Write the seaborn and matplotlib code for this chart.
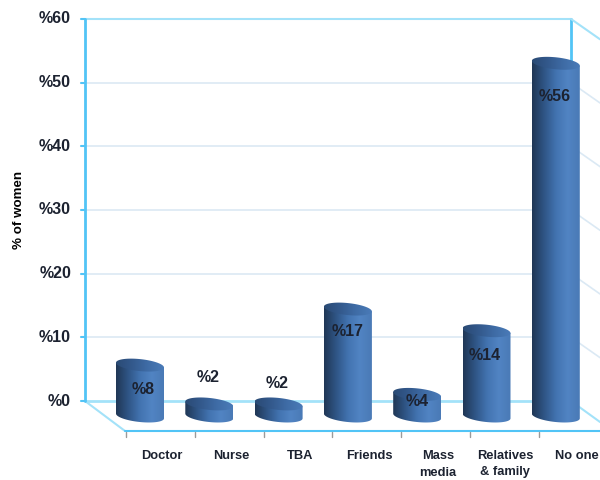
import numpy as np
import pandas as pd
import matplotlib
matplotlib.use("Agg")
import matplotlib.pyplot as plt
import seaborn as sns
from matplotlib.colors import LinearSegmentedColormap
from matplotlib.path import Path
from matplotlib.patches import PathPatch

categories = ["Doctor", "Nurse", "TBA", "Friends", "Mass\nmedia", "Relatives\n& family", "No one"]
value_labels = ["%8", "%2", "%2", "%17", "%4", "%14", "%56"]
# bar heights, the labels are rounded
heights = [8.0, 1.9, 1.9, 16.8, 3.4, 13.4, 55.4]
y_ticks = [0, 10, 20, 30, 40, 50, 60]

# label positions in pixels of the 600x480 picture
label_xy = [(143, 390), (208, 377), (277, 383), (348, 331), (417, 402), (485, 356), (555, 96)]
cat_label_x = [162, 231, 300, 369, 438, 505, 577]

# picture is laid out in pixels, so work out the axes limits from them
PX_PER_CAT = 69.3
PX_PER_PCT = 6.367
X0 = 140.0   # centre of first bar
Y0 = 401.0   # %0 on the back wall
BASE = -2.36  # front plane of the floor, in %
BAR_W = 48 / PX_PER_CAT

CYAN = "#52c4f6"
PALE = "#a3e2f9"
GRID = "#dbe9f4"
TEXT = "#1c2230"


def px(x):
    return (x - X0) / PX_PER_CAT


def py(y):
    return (Y0 - y) / PX_PER_PCT


sns.set_theme(style="white")
plt.rcParams["font.family"] = ["Liberation Sans", "DejaVu Sans"]

fig = plt.figure(figsize=(6, 4.8), dpi=100)
ax = fig.add_axes([0, 0, 1, 1])

df = pd.DataFrame({"cat": categories, "val": heights})
sns.barplot(data=df, x="cat", y="val", width=BAR_W, bottom=BASE, color="#3c6aa4",
            ax=ax, zorder=3, saturation=1)

# back wall and side wall grid
for t in y_ticks[1:-1]:
    ax.plot([px(85), px(571)], [t, t], color=GRID, lw=1.2, zorder=1)
    ax.plot([px(571), px(600)], [t, t - 29 * 0.7 / PX_PER_PCT], color=GRID, lw=1.2, zorder=1)
ax.plot([px(85), px(571)], [60, 60], color=PALE, lw=1.5, zorder=1)
ax.plot([px(85), px(571)], [0, 0], color=PALE, lw=2, zorder=1)
ax.plot([px(85), px(85)], [0, 60], color=CYAN, lw=2, zorder=2)
ax.plot([px(571), px(571)], [0, 60], color=CYAN, lw=2, zorder=1)
ax.plot([px(571), px(600)], [60, 60 - 29 * 0.7 / PX_PER_PCT], color=PALE, lw=1.5, zorder=1)

# floor
ax.plot([px(85), px(125)], [py(401), py(431)], color=PALE, lw=1.5, zorder=1)
ax.plot([px(125), px(600)], [py(431), py(431)], color=CYAN, lw=1.5, zorder=1)
ax.plot([px(571), px(600)], [py(401), py(422)], color=PALE, lw=1.5, zorder=1)

for t in y_ticks:
    ax.plot([px(81), px(85)], [t, t], color=CYAN, lw=1.5, zorder=2)
    ax.text(px(71), t, f"%{t}", ha="right", va="center", fontsize=11.5,
            fontweight="bold", color=TEXT)

for i, cat in enumerate(categories):
    tx = px(125.7 + 68.9 * i)
    ax.plot([tx, tx], [py(432), py(437)], color="#9a9a9a", lw=1, zorder=1)
    ax.text(px(cat_label_x[i]), py(450), cat, ha="center", va="top",
            fontsize=9.3, fontweight="bold", color=TEXT, linespacing=1.5)

ax.text(px(19), py(210), "% of women", rotation=90, ha="center", va="center",
        fontsize=9.6, fontweight="bold", color="black")

# cylinders on top of the seaborn bars
body_cmap = LinearSegmentedColormap.from_list(
    "body", ["#203755", "#2f5585", "#4273b0", "#5184c3", "#4a7ab6"])
top_cmap = LinearSegmentedColormap.from_list(
    "top", ["#2a4a74", "#33598c", "#3f6ca6", "#4a7bb8"])
grad = np.linspace(0, 1, 128).reshape(1, -1)
a = 24 / PX_PER_CAT
b = 6.0 / PX_PER_PCT
tilt = 2.4 / PX_PER_PCT
theta = np.linspace(0, 2 * np.pi, 80)

for i, bar in enumerate(ax.patches):
    cx = bar.get_x() + bar.get_width() / 2
    top = bar.get_y() + bar.get_height()
    base = bar.get_y()
    bar.set_alpha(0)

    low = np.linspace(np.pi, 2 * np.pi, 40)
    xs = np.r_[cx - a, cx + a * np.cos(low), cx + a]
    ys = np.r_[top + tilt, base + b * np.sin(low) - tilt * np.cos(low), top - tilt]
    body = PathPatch(Path(np.c_[xs, ys]), transform=ax.transData)
    im = ax.imshow(grad, cmap=body_cmap, aspect="auto", zorder=4,
                   extent=[cx - a, cx + a, base - 2 * b, top + 2 * b])
    im.set_clip_path(body)

    xt = cx + a * np.cos(theta)
    yt = top + b * np.sin(theta) - tilt * np.cos(theta)
    cap = PathPatch(Path(np.c_[xt, yt]), transform=ax.transData)
    im2 = ax.imshow(grad, cmap=top_cmap, aspect="auto", zorder=5,
                    extent=[cx - a, cx + a, top - 2 * b, top + 2 * b])
    im2.set_clip_path(cap)

    ax.text(px(label_xy[i][0]), py(label_xy[i][1]), value_labels[i], ha="center", va="center",
            fontsize=11.5, fontweight="bold", color=TEXT, zorder=6)

ax.set_xlim(px(0), px(600))
ax.set_ylim(py(480), py(0))
ax.axis("off")

fig.savefig("out.png", dpi=100)
